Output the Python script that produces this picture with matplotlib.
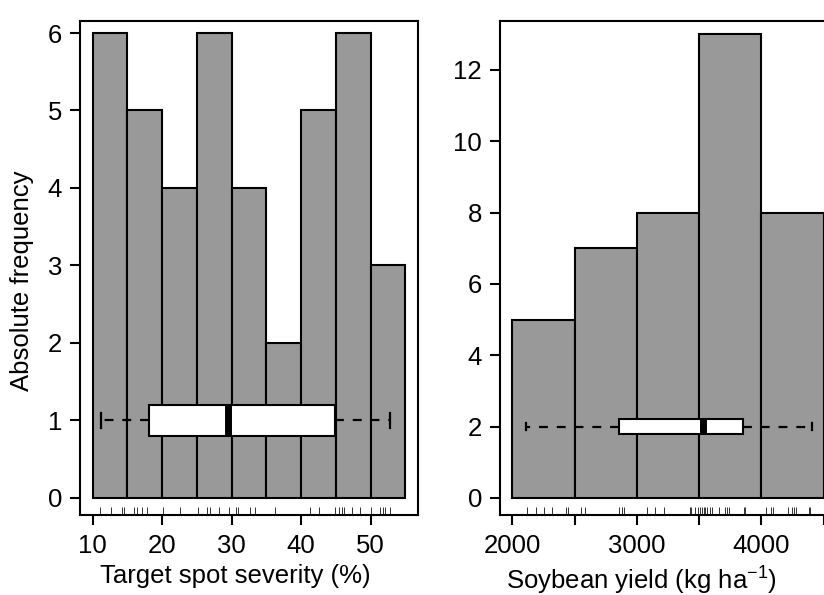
import numpy as np
import matplotlib
matplotlib.use('Agg')
import matplotlib.pyplot as plt

plt.rcParams['font.family'] = ['Liberation Sans', 'DejaVu Sans']
plt.rcParams['mathtext.fontset'] = 'custom'
plt.rcParams['mathtext.rm'] = 'Liberation Sans'
plt.rcParams['mathtext.it'] = 'Liberation Sans'
plt.rcParams['mathtext.default'] = 'regular'

FS = 18.5

# severidad (%)
sev_edges = [10, 15, 20, 25, 30, 35, 40, 45, 50, 55]
sev_counts = [6, 5, 4, 6, 4, 2, 5, 6, 3]
sev_rug = [11.1, 12.6, 14.2, 14.5, 15.9, 16.4, 17.1, 17.9, 20.2, 22.6, 25.2, 26.5,
           26.9, 28.2, 29.6, 30.6, 30.9, 32.7, 33.3, 36.3, 41.2, 42.6, 44.9, 45.4,
           45.8, 46.2, 47.3, 48.5, 50.1, 51.3, 51.7, 52.1, 52.7]
sev_box = dict(whislo=11.2, q1=18.1, med=29.5, q3=44.8, whishi=52.8)

# rendimiento (kg/ha)
yld_edges = [2000, 2500, 3000, 3500, 4000, 4500]
yld_counts = [5, 7, 8, 13, 8]
yld_rug = [2118, 2193, 2257, 2319, 2431, 2447, 2554, 2581, 2854, 2881, 2900, 3082,
           3149, 3216, 3424, 3435, 3470, 3491, 3510, 3524, 3537, 3550, 3563, 3585,
           3604, 3657, 3711, 3724, 3743, 3858, 3871, 4040, 4078, 4094, 4212, 4247,
           4265, 4279, 4380, 4394]
yld_box = dict(whislo=2112, q1=2859, med=3528, q3=3853, whishi=4407)


def panel(ax, edges, counts, rug, box, box_y, xlabel, ylim, label_x):
    edges = np.array(edges)
    ax.bar(edges[:-1], counts, width=np.diff(edges), align='edge',
           color='#999999', edgecolor='black', linewidth=1.5, zorder=1)
    st = dict(box, fliers=[])
    ax.bxp([st], positions=[box_y], widths=0.4, capwidths=0.2,
           orientation='horizontal', patch_artist=True, manage_ticks=False,
           boxprops=dict(facecolor='white', edgecolor='black', linewidth=1.5),
           medianprops=dict(color='black', linewidth=5, solid_capstyle='butt'),
           whiskerprops=dict(color='black', linewidth=1.6, linestyle=(0, (4, 4))),
           capprops=dict(color='black', linewidth=1.6), zorder=3)
    ax.vlines(rug, 0, 0.016, transform=ax.get_xaxis_transform(),
              color='#333333', linewidth=0.7)
    rng = edges[-1] - edges[0]
    ax.set_xlim(edges[0] - 0.04 * rng, edges[-1] + 0.04 * rng)
    ax.set_ylim(*ylim)
    ax.set_xlabel(xlabel, fontsize=FS)
    ax.xaxis.set_label_coords(label_x, -0.100)
    ax.tick_params(direction='out', length=7, width=1.5, labelsize=FS)
    ax.tick_params(axis='x', pad=7)
    ax.tick_params(axis='y', pad=6)
    for s in ax.spines.values():
        s.set_linewidth(1.5)


fig = plt.figure(figsize=(8.24, 5.95), dpi=100)
ax1 = fig.add_axes([0.0971, 0.1345, 0.4102, 0.8302])
ax2 = fig.add_axes([0.6068, 0.1345, 0.4078, 0.8302])

panel(ax1, sev_edges, sev_counts, sev_rug, sev_box, 1, 'Target spot severity (%)',
      (-0.22, 6.155), 0.458)
ax1.set_xticks([10, 20, 30, 40, 50])
ax1.set_yticks(range(0, 7))
ax1.set_ylabel('Absolute frequency', fontsize=FS)
ax1.yaxis.set_label_coords(-0.137, 0.475)

panel(ax2, yld_edges, yld_counts, yld_rug, yld_box, 2, 'Soybean yield (kg ha$^{-1}$)',
      (-0.48, 13.37), 0.42)
ax2.set_xticks([2000, 2500, 3000, 3500, 4000, 4500])
ax2.set_xticklabels(['2000', '', '3000', '', '4000', ''])
ax2.set_yticks(range(0, 13, 2))

fig.savefig('out.png', dpi=100)
